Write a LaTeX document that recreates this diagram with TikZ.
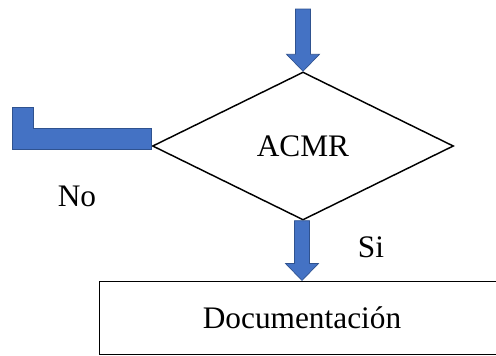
\documentclass[tikz,border=0pt]{standalone}
\usepackage{fontspec}
\setmainfont{Liberation Serif}
\usepackage{xcolor}
\usetikzlibrary{shapes.geometric, calc, positioning}
\definecolor{arrowblue}{HTML}{4472C4}
\definecolor{arrowedge}{HTML}{2F528F}

% block arrow pointing down, from a coordinate to a node anchor
\newcommand{\blockdown}[2]{%
  \filldraw[blockarrow] ($(#2 |- #1)+(-7.5,0)$) -- ($(#2)+(-7.5,-17)$) -- ($(#2)+(-16.5,-17)$)
    -- (#2) -- ($(#2)+(16.5,-17)$) -- ($(#2)+(7.5,-17)$) -- ($(#2 |- #1)+(7.5,0)$) -- cycle;}

\begin{document}
\begin{tikzpicture}[
    x=0.75pt, y=-0.75pt,
    every node/.style={font=\fontsize{23.5}{28}\selectfont},
    decision/.style={diamond, draw, line width=1.1pt, inner sep=0pt, minimum width=225.75pt, minimum height=111pt},
    process/.style={rectangle, draw, line width=0.75pt, minimum width=304.5pt, minimum height=54.75pt},
    blockarrow/.style={fill=arrowblue, draw=arrowedge, line width=0.5pt}
]
\useasboundingbox (0,0) rectangle (496,355);
\clip (0,0) rectangle (496,355);

% Nodes
\node[decision] (acmr) at (303,146) {ACMR};
\node[process] (doc) at (302,317.5) {Documentación};
\coordinate (start) at (302,9);

% Labels
\node (no) at (77,196) {No};
\node (si) at (371,247) {Si};

% Arrows
\blockdown{start}{acmr.north}
\blockdown{acmr.south}{doc.north}

% No branch
\filldraw[blockarrow] ($(acmr.west)+(0,-18)$) -- ($(acmr.west)+(-118,-18)$) -- ($(acmr.west)+(-118,-39)$)
  -- ($(acmr.west)+(-139,-39)$) -- ($(acmr.west)+(-139,3)$) -- ($(acmr.west)+(0,3)$) -- cycle;

\end{tikzpicture}
\end{document}
